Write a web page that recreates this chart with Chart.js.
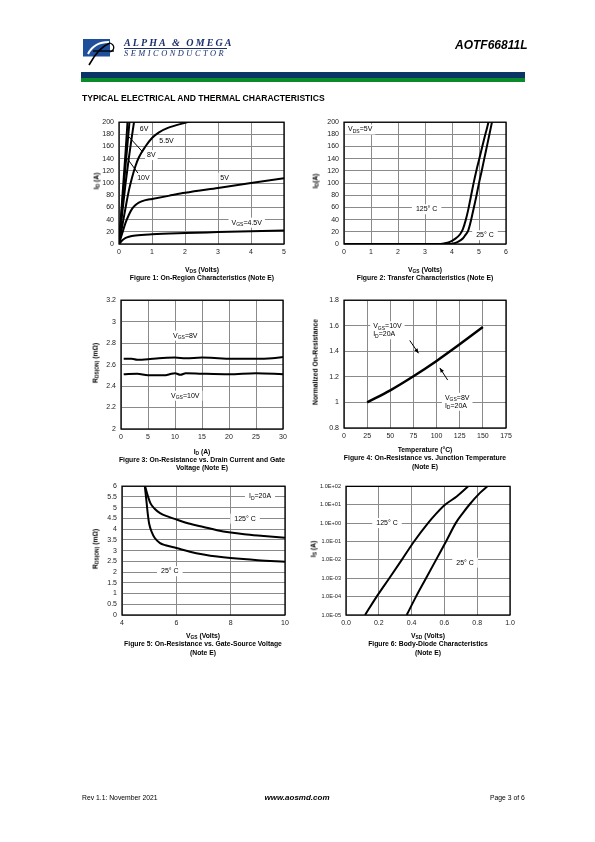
<!DOCTYPE html>
<html>
<head>
<meta charset="utf-8">
<script src="https://cdn.jsdelivr.net/npm/chart.js@4.4.0/dist/chart.umd.min.js"></script>
<style>
body { margin: 0; background: #fff; }
#page { position: relative; width: 595px; height: 842px; overflow: hidden; font-family: "Liberation Sans", Arial, sans-serif; color: #000; }
.t { position: absolute; white-space: nowrap; line-height: 1; will-change: transform; }
.c { transform: translate(-50%, -50%); }
.r { transform: translate(-50%, -50%) rotate(-90deg); }
.b { font-weight: bold; font-size: 6.8px; }
sub { font-size: 0.72em; vertical-align: -0.3em; line-height: 0; }
canvas { position: absolute; }
</style>
</head>
<body>
<div id="page">
  <!-- header -->
  <svg style="position:absolute;left:80px;top:36px" width="42" height="32">
    <rect x="3" y="3" width="27" height="17.5" fill="#1f4e9b"/>
    <path d="M8 18 C 12 10, 20 6, 29 6" stroke="#fff" stroke-width="2" fill="none"/>
    <path d="M9 29 C 14 20, 21 10, 30 7" stroke="#000" stroke-width="1.6" fill="none"/>
    <path d="M13 15 L 34 15" stroke="#000" stroke-width="1.3"/>
    <path d="M30 7 C 35 9, 35 14, 30 16" stroke="#000" stroke-width="1.3" fill="none"/>
  </svg>
  <div class="t" style="left:124px;top:38px;font-family:'Liberation Serif',serif;font-style:italic;font-weight:bold;font-size:10px;color:#1a2f6b;letter-spacing:2.1px">ALPHA &amp; OMEGA</div>
  <div style="position:absolute;left:124px;top:48px;width:103px;height:1px;background:#1a2f6b"></div>
  <div class="t" style="left:124px;top:49.5px;font-family:'Liberation Serif',serif;font-style:italic;font-size:8.4px;color:#1a2f6b;letter-spacing:2.5px">SEMICONDUCTOR</div>
  <div class="t" style="right:68px;top:39px;font-weight:bold;font-style:italic;font-size:12px">AOTF66811L</div>
  <div style="position:absolute;left:81px;top:72px;width:444px;height:6px;background:#0b3466"></div>
  <div style="position:absolute;left:81px;top:78px;width:444px;height:4px;background:#0a8a2a"></div>
  <div class="t" style="left:82px;top:94px;font-weight:bold;font-size:8.6px">TYPICAL ELECTRICAL AND THERMAL CHARACTERISTICS</div>

  <!-- chart 1 texts -->
  <div class="t b r" style="left:97px;top:181px">I<sub>D</sub> (A)</div>
  <div class="t b c" style="left:202px;top:270px">V<sub>DS</sub> (Volts)</div>
  <div class="t b c" style="left:202px;top:278px">Figure 1: On-Region Characteristics (Note E)</div>
  <!-- chart 2 texts -->
  <div class="t b r" style="left:316px;top:181px">I<sub>D</sub>(A)</div>
  <div class="t b c" style="left:425px;top:270px">V<sub>GS</sub> (Volts)</div>
  <div class="t b c" style="left:425px;top:278px">Figure 2: Transfer Characteristics (Note E)</div>
  <!-- chart 3 texts -->
  <div class="t b r" style="left:96px;top:363px">R<sub>DS(ON)</sub> (m&Omega;)</div>
  <div class="t b c" style="left:202px;top:452px">I<sub>D</sub> (A)</div>
  <div class="t b c" style="left:202px;top:460px">Figure 3: On-Resistance vs. Drain Current and Gate</div>
  <div class="t b c" style="left:202px;top:468px">Voltage (Note E)</div>
  <!-- chart 4 texts -->
  <div class="t b r" style="left:316px;top:362px">Normalized On-Resistance</div>
  <div class="t b c" style="left:425px;top:450px">Temperature (&deg;C)</div>
  <div class="t b c" style="left:425px;top:458px">Figure 4: On-Resistance vs. Junction Temperature</div>
  <div class="t b c" style="left:425px;top:467px">(Note E)</div>
  <!-- chart 5 texts -->
  <div class="t b r" style="left:96px;top:549px">R<sub>DS(ON)</sub> (m&Omega;)</div>
  <div class="t b c" style="left:203px;top:636px">V<sub>GS</sub> (Volts)</div>
  <div class="t b c" style="left:203px;top:644px">Figure 5: On-Resistance vs. Gate-Source Voltage</div>
  <div class="t b c" style="left:203px;top:653px">(Note E)</div>
  <!-- chart 6 texts -->
  <div class="t b r" style="left:314px;top:549px">I<sub>S</sub> (A)</div>
  <div class="t b c" style="left:428px;top:636px">V<sub>SD</sub> (Volts)</div>
  <div class="t b c" style="left:428px;top:644px">Figure 6: Body-Diode Characteristics</div>
  <div class="t b c" style="left:428px;top:653px">(Note E)</div>

  <!-- footer -->
  <div class="t" style="left:82px;top:795px;font-size:6.8px">Rev 1.1: November 2021</div>
  <div class="t c" style="left:297px;top:798px;font-size:8px;font-weight:bold;font-style:italic">www.aosmd.com</div>
  <div class="t" style="right:70px;top:795px;font-size:6.8px">Page 3 of 6</div>

  <canvas id="c1"></canvas><canvas id="c2"></canvas><canvas id="c3"></canvas>
  <canvas id="c4"></canvas><canvas id="c5"></canvas><canvas id="c6"></canvas>
</div>

<script>
// Figure 1: output characteristics, Id vs Vds
const f1_10v_x = [0, 0.1, 0.2, 0.26];
const f1_10v_y = [0, 76, 152, 202];
const f1_8v_x = [0, 0.1, 0.2, 0.3, 0.32];
const f1_8v_y = [0, 66, 130, 190, 202];
const f1_6v_x = [0, 0.1, 0.2, 0.3, 0.4, 0.46];
const f1_6v_y = [0, 52, 100, 142, 180, 202];
const f1_55v_x = [0, 0.1, 0.2, 0.3, 0.4, 0.5, 0.6, 0.8, 1, 1.2, 1.5, 2, 2.2];
const f1_55v_y = [0, 30, 60, 88, 110, 128, 142, 160, 174, 183, 191, 199, 202];
const f1_5v_x = [0, 0.1, 0.2, 0.3, 0.4, 0.5, 0.6, 0.8, 1, 1.5, 2, 3, 4, 5];
const f1_5v_y = [0, 18, 35, 48, 58, 64, 68, 72, 74, 79, 84, 92, 100, 108];
const f1_45v_x = [0, 0.1, 0.2, 0.3, 0.5, 1, 2, 3, 4, 5];
const f1_45v_y = [0, 6, 10, 12, 14, 16, 18, 19.5, 21, 22];

// Figure 2: transfer characteristics, Id vs Vgs
const f2_125_x = [0, 3.5, 3.7, 3.9, 4.1, 4.3, 4.4, 4.5, 4.6, 4.7, 4.8, 4.9, 5.0, 5.1, 5.2, 5.3, 5.36];
const f2_125_y = [0, 0, 1, 3, 8, 16, 24, 38, 56, 78, 100, 120, 138, 156, 174, 191, 202];
const f2_25_x = [0, 3.9, 4.0, 4.2, 4.4, 4.5, 4.6, 4.7, 4.8, 4.9, 5.0, 5.1, 5.2, 5.3, 5.4, 5.48];
const f2_25_y = [0, 0, 0.5, 3, 9, 15, 22, 38, 58, 78, 100, 120, 141, 162, 183, 200];

// Figure 3: Rds(on) vs Id
const f3_id = [0.5, 2, 3, 5, 7, 10, 12, 15, 18, 20, 25, 28, 30];
const f3_8v = [2.655, 2.655, 2.645, 2.65, 2.66, 2.665, 2.66, 2.665, 2.66, 2.655, 2.655, 2.66, 2.67];
const f3_id10 = [0.5, 3, 5, 8, 9, 10, 11, 12, 15, 20, 25, 30];
const f3_10v = [2.51, 2.515, 2.50, 2.50, 2.51, 2.52, 2.505, 2.52, 2.515, 2.51, 2.52, 2.51];

// Figure 4: normalized Rds(on) vs temperature
const f4_temp = [25, 50, 75, 100, 125, 150];
const f4_norm = [1.0, 1.095, 1.205, 1.325, 1.455, 1.59];

// Figure 5: Rds(on) vs Vgs
const f5_125_x = [4.85, 4.95, 5.05, 5.2, 5.4, 5.7, 6, 6.5, 7, 7.5, 8, 8.5, 9, 10];
const f5_125_y = [6, 5.55, 5.2, 4.95, 4.75, 4.58, 4.45, 4.25, 4.1, 3.95, 3.84, 3.76, 3.7, 3.6];
const f5_25_x = [4.84, 4.9, 4.95, 5.0, 5.1, 5.2, 5.4, 5.6, 6, 6.5, 7, 7.5, 8, 9, 10];
const f5_25_y = [6, 5.3, 4.7, 4.25, 3.85, 3.6, 3.35, 3.25, 3.12, 2.95, 2.82, 2.72, 2.65, 2.55, 2.48];

// Figure 6: body diode, Is vs Vsd (log)
const f6_125_x = [0.116, 0.187, 0.264, 0.34, 0.415, 0.5, 0.55, 0.604, 0.675, 0.745];
const f6_125_y = [1e-5, 1e-4, 1e-3, 1e-2, 1e-1, 1, 3.3, 10, 28, 100];
const f6_25_x = [0.37, 0.427, 0.488, 0.549, 0.61, 0.669, 0.71, 0.752, 0.817, 0.862];
const f6_25_y = [1e-5, 1e-4, 1e-3, 1e-2, 1e-1, 1, 3.3, 10, 44, 100];

const f6_decades = [-5, -4, -3, -2, -1, 0, 1, 2];

Chart.defaults.font.family = '"Liberation Sans", Arial, sans-serif';
Chart.defaults.font.size = 7;
Chart.defaults.color = '#222';

const YW = 40, PT = 6, PR = 14, XH = 13;

function pts(xs, ys) {
  return xs.map((x, i) => ({ x: x, y: ys[i] }));
}

function curve(xs, ys) {
  return {
    data: pts(xs, ys),
    borderColor: '#000',
    borderWidth: 2,
    pointRadius: 0,
    cubicInterpolationMode: 'monotone',
    fill: false
  };
}

const BIG = '7px "Liberation Sans", Arial, sans-serif';
const SMALL = '5px "Liberation Sans", Arial, sans-serif';

function splitRich(str) {
  const parts = [];
  str.replace(/_\{([^}]*)\}|([^_]+)/g, (m, sub, txt) => {
    parts.push(sub !== undefined ? { t: sub, s: true } : { t: txt, s: false });
  });
  return parts;
}

function measureRich(ctx, str) {
  let w = 0;
  splitRich(str).forEach(p => { ctx.font = p.s ? SMALL : BIG; w += ctx.measureText(p.t).width; });
  return w;
}

// draws "V_{GS}=4.5V" style text with subscripts
function richText(ctx, str, x, y, align) {
  const w = measureRich(ctx, str);
  let cx = align === 'left' ? x : x - w / 2;
  ctx.textBaseline = 'middle';
  ctx.textAlign = 'left';
  splitRich(str).forEach(p => {
    ctx.font = p.s ? SMALL : BIG;
    ctx.fillText(p.t, cx, p.s ? y + 2 : y);
    cx += ctx.measureText(p.t).width;
  });
}

const notes = {
  id: 'notes',
  afterDatasetsDraw(chart, args, opts) {
    const ctx = chart.ctx, xs = chart.scales.x, ys = chart.scales.y;
    ctx.save();
    (opts.lines || []).forEach(l => {
      const x1 = xs.getPixelForValue(l[0]), y1 = ys.getPixelForValue(l[1]);
      const x2 = xs.getPixelForValue(l[2]), y2 = ys.getPixelForValue(l[3]);
      ctx.strokeStyle = '#000';
      ctx.lineWidth = 1;
      ctx.beginPath(); ctx.moveTo(x1, y1); ctx.lineTo(x2, y2); ctx.stroke();
      if (opts.arrow) {
        const a = Math.atan2(y2 - y1, x2 - x1);
        ctx.fillStyle = '#000';
        ctx.beginPath();
        ctx.moveTo(x2, y2);
        ctx.lineTo(x2 - 5 * Math.cos(a - 0.4), y2 - 5 * Math.sin(a - 0.4));
        ctx.lineTo(x2 - 5 * Math.cos(a + 0.4), y2 - 5 * Math.sin(a + 0.4));
        ctx.closePath(); ctx.fill();
      }
    });
    (opts.labels || []).forEach(lb => {
      const px = xs.getPixelForValue(lb.x), py = ys.getPixelForValue(lb.y);
      const lh = 8;
      let w = 0;
      lb.text.forEach(s => { w = Math.max(w, measureRich(ctx, s)); });
      const h = lb.text.length * lh;
      const left = lb.align === 'left' ? px : px - w / 2;
      ctx.fillStyle = '#fff';
      ctx.fillRect(left - lb.pad, py - h / 2 - 1, w + 2 * lb.pad, h + 2);
      ctx.fillStyle = '#000';
      lb.text.forEach((s, i) => {
        richText(ctx, s, px, py - h / 2 + lh / 2 + i * lh, lb.align);
      });
    });
    ctx.restore();
  },
  afterDraw(chart) {
    const a = chart.chartArea, ctx = chart.ctx;
    ctx.save();
    ctx.strokeStyle = '#000';
    ctx.lineWidth = 1.3;
    ctx.strokeRect(a.left, a.top, a.right - a.left, a.bottom - a.top);
    ctx.restore();
  }
};

function makeChart(id, box, xcfg, ycfg, datasets, noteOpts) {
  const cv = document.getElementById(id);
  const w = box.r - box.l + YW + PR, h = box.b - box.t + PT + XH;
  cv.width = w; cv.height = h;
  cv.style.left = (box.l - YW) + 'px';
  cv.style.top = (box.t - PT) + 'px';
  cv.style.width = w + 'px'; cv.style.height = h + 'px';
  const grid = { color: '#8a8a8a', lineWidth: 1, drawTicks: false };
  return new Chart(cv, {
    type: 'line',
    data: { datasets: datasets },
    options: {
      responsive: false,
      animation: false,
      devicePixelRatio: 1,
      layout: { padding: { left: 0, top: PT, right: PR, bottom: 0 } },
      plugins: { legend: { display: false }, tooltip: { enabled: false }, notes: noteOpts },
      scales: {
        x: Object.assign({
          type: 'linear', grid: grid, border: { display: false },
          afterFit: s => { s.height = XH; }
        }, xcfg, { ticks: Object.assign({ padding: 4, maxRotation: 0, autoSkip: false }, xcfg.ticks) }),
        y: Object.assign({
          type: 'linear', grid: grid, border: { display: false },
          afterFit: s => { s.width = YW; }
        }, ycfg, { ticks: Object.assign({ padding: 5, autoSkip: false }, ycfg.ticks) })
      }
    },
    plugins: [notes]
  });
}

const num1 = v => String(Number(v.toFixed(1)));

// Figure 1
makeChart('c1', { l: 119, t: 119, r: 284, b: 244 },
  { min: 0, max: 5, ticks: { stepSize: 1 } },
  { min: 0, max: 200, ticks: { stepSize: 20 } },
  [curve(f1_10v_x, f1_10v_y), curve(f1_8v_x, f1_8v_y), curve(f1_6v_x, f1_6v_y),
   curve(f1_55v_x, f1_55v_y), curve(f1_5v_x, f1_5v_y), curve(f1_45v_x, f1_45v_y)],
  {
    lines: [[0.30, 176, 0.72, 151], [0.20, 144, 0.58, 116]],
    labels: [
      { x: 0.76, y: 188, text: ['6V'], pad: 2 },
      { x: 1.44, y: 169, text: ['5.5V'], pad: 2 },
      { x: 0.98, y: 146, text: ['8V'], pad: 2 },
      { x: 0.74, y: 108, text: ['10V'], pad: 2 },
      { x: 3.2, y: 109, text: ['5V'], pad: 2 },
      { x: 3.87, y: 35, text: ['V_{GS}=4.5V'], pad: 3 }
    ]
  });

// Figure 2
makeChart('c2', { l: 344, t: 119, r: 506, b: 244 },
  { min: 0, max: 6, ticks: { stepSize: 1 } },
  { min: 0, max: 200, ticks: { stepSize: 20 } },
  [curve(f2_125_x, f2_125_y), curve(f2_25_x, f2_25_y)],
  {
    labels: [
      { x: 0.6, y: 188, text: ['V_{DS}=5V'], pad: 3 },
      { x: 3.06, y: 57, text: ['125° C'], pad: 4 },
      { x: 5.22, y: 14.5, text: ['25° C'], pad: 4 }
    ]
  });

// Figure 3
makeChart('c3', { l: 121, t: 297, r: 283, b: 429 },
  { min: 0, max: 30, ticks: { stepSize: 5 } },
  { min: 2, max: 3.2, ticks: { stepSize: 0.2, callback: num1 } },
  [curve(f3_id, f3_8v), curve(f3_id10, f3_10v)],
  {
    labels: [
      { x: 11.9, y: 2.87, text: ['V_{GS}=8V'], pad: 3 },
      { x: 11.9, y: 2.31, text: ['V_{GS}=10V'], pad: 3 }
    ]
  });

// Figure 4
makeChart('c4', { l: 344, t: 297, r: 506, b: 428 },
  { min: 0, max: 175, ticks: { stepSize: 25 } },
  { min: 0.8, max: 1.8, ticks: { stepSize: 0.2, callback: num1 } },
  [Object.assign(curve(f4_temp, f4_norm), { borderWidth: 2.5 })],
  {
    arrow: true,
    lines: [[71, 1.485, 80.5, 1.385], [112, 1.175, 103.5, 1.27]],
    labels: [
      { x: 31.5, y: 1.565, text: ['V_{GS}=10V', 'I_{D}=20A'], align: 'left', pad: 3 },
      { x: 109, y: 1.005, text: ['V_{GS}=8V', 'I_{D}=20A'], align: 'left', pad: 3 }
    ]
  });

// Figure 5
makeChart('c5', { l: 122, t: 483, r: 285, b: 615 },
  { min: 4, max: 10, ticks: { stepSize: 2 } },
  { min: 0, max: 6, ticks: { stepSize: 0.5, callback: num1 } },
  [curve(f5_125_x, f5_125_y), curve(f5_25_x, f5_25_y)],
  {
    labels: [
      { x: 9.08, y: 5.52, text: ['I_{D}=20A'], pad: 4 },
      { x: 8.53, y: 4.49, text: ['125° C'], pad: 4 },
      { x: 5.76, y: 2.04, text: ['25° C'], pad: 4 }
    ]
  });

// Figure 6
makeChart('c6', { l: 346, t: 484, r: 510, b: 615 },
  { min: 0, max: 1, ticks: { stepSize: 0.2, callback: v => v.toFixed(1) } },
  {
    type: 'logarithmic', min: 1e-5, max: 1e2,
    afterBuildTicks: s => { s.ticks = f6_decades.map(e => ({ value: Math.pow(10, e) })); },
    ticks: {
      font: { size: 5.6 },
      callback: v => {
        const e = Math.round(Math.log10(v));
        return '1.0E' + (e < 0 ? '-' : '+') + String(Math.abs(e)).padStart(2, '0');
      }
    }
  },
  [curve(f6_125_x, f6_125_y), curve(f6_25_x, f6_25_y)],
  {
    labels: [
      { x: 0.25, y: 1, text: ['125° C'], pad: 4 },
      { x: 0.726, y: 0.007, text: ['25° C'], pad: 4 }
    ]
  });
</script>
</body>
</html>
